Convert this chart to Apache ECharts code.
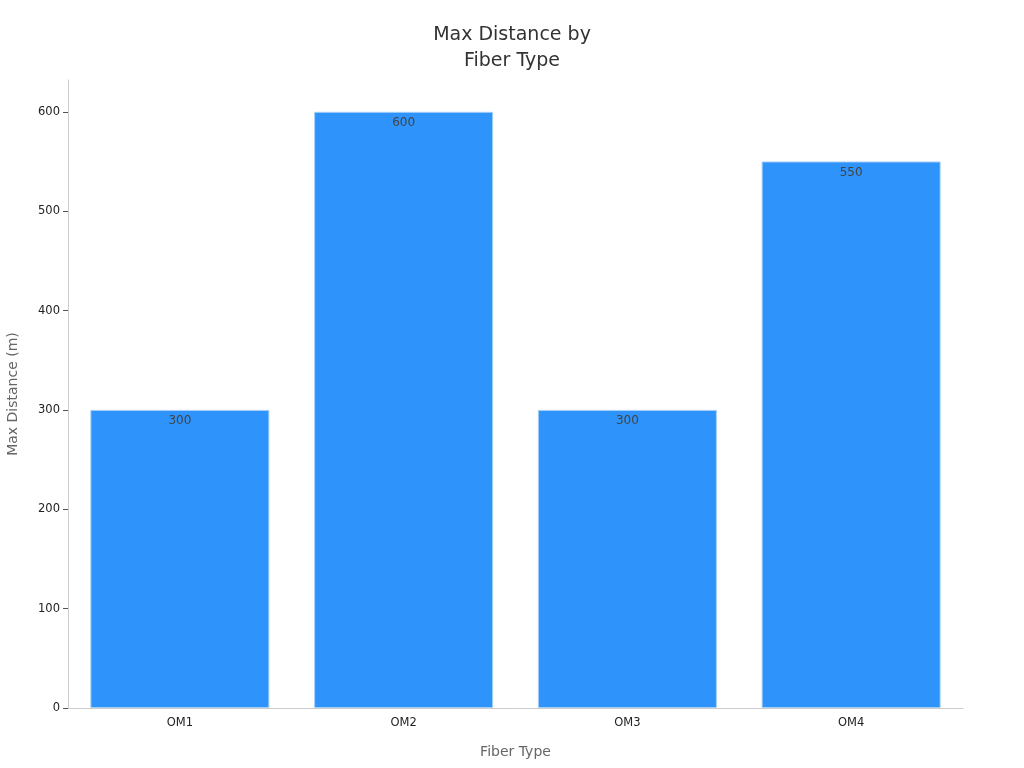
<!DOCTYPE html>
<html>
<head>
<meta charset="utf-8">
<title>Max Distance by Fiber Type</title>
<script src="https://cdn.jsdelivr.net/npm/echarts@6/dist/echarts.min.js"></script>
<style>
  html, body { margin: 0; padding: 0; background: #fff; }
  #chart { width: 1024px; height: 768px; }
</style>
</head>
<body>
<div id="chart"></div>
<script>
// data
const fiberTypes = ['OM1', 'OM2', 'OM3', 'OM4'];
const maxDistance = [300, 600, 300, 550];
const yTicks = [0, 100, 200, 300, 400, 500, 600];

const font = 'DejaVu Sans';
const myChart = echarts.init(document.getElementById('chart'));

const option = {
    backgroundColor: '#ffffff',
    title: {
        text: 'Max Distance by\nFiber Type',
        left: 'center',
        top: 17,
        textStyle: {
            fontFamily: font,
            fontSize: 19,
            fontWeight: 'normal',
            color: '#333333',
            lineHeight: 26
        }
    },
    grid: {
        left: 68,
        right: 61,
        top: 80,
        bottom: 60,
        outerBoundsMode: 'none'
    },
    xAxis: {
        type: 'category',
        data: fiberTypes,
        name: 'Fiber Type',
        nameLocation: 'middle',
        nameGap: 37,
        nameTextStyle: { fontFamily: font, fontSize: 14, color: '#666666' },
        axisLine: { lineStyle: { color: '#cccccc', width: 1 } },
        axisTick: { alignWithLabel: true, length: 5, lineStyle: { color: '#555555' } },
        axisLabel: { fontFamily: font, fontSize: 11.5, color: '#222222', margin: 9 }
    },
    yAxis: {
        type: 'value',
        min: 0,
        max: 632,
        interval: 100,
        name: 'Max Distance (m)',
        nameLocation: 'middle',
        nameGap: 48,
        nameTextStyle: { fontFamily: font, fontSize: 14, color: '#666666' },
        axisLine: { show: true, lineStyle: { color: '#cccccc', width: 1 } },
        axisTick: { show: true, length: 5, customValues: yTicks, lineStyle: { color: '#555555' } },
        axisLabel: { fontFamily: font, fontSize: 11.5, color: '#222222', margin: 8, customValues: yTicks },
        splitLine: { show: false }
    },
    series: [{
        type: 'bar',
        data: maxDistance,
        barCategoryGap: '20%',
        itemStyle: {
            color: '#2e93fa',
            borderColor: '#a6cff7',
            borderWidth: 1
        },
        label: {
            show: true,
            position: 'insideTop',
            distance: 5,
            fontFamily: font,
            fontSize: 12,
            color: '#444444'
        }
    }]
};

myChart.setOption(option, true);
</script>
</body>
</html>
